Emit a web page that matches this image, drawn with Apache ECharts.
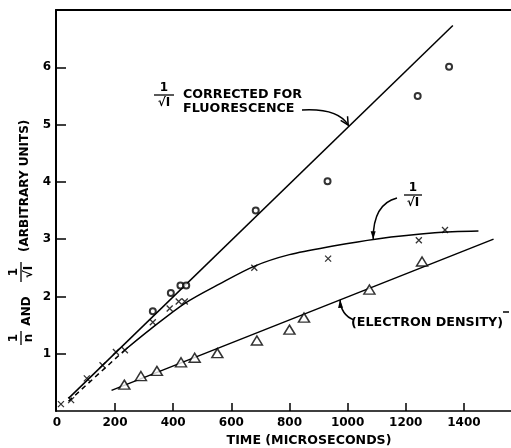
<!DOCTYPE html>
<html>
<head>
<meta charset="utf-8">
<script src="https://cdn.jsdelivr.net/npm/echarts@6/dist/echarts.min.js"></script>
<style>
html, body { margin: 0; padding: 0; background: #fff; }
#chart { width: 511px; height: 448px; }
</style>
</head>
<body>
<div id="chart"></div>
<script>
var xTickValues = [0, 200, 400, 600, 800, 1000, 1200, 1400];
var xTickMarks = [200, 400, 600, 800, 1000, 1200, 1400];
var yTickValues = [1, 2, 3, 4, 5, 6];

// 1/sqrt(I) corrected for fluorescence (circles) and its straight line
var correctedPts = [[330, 1.74], [392, 2.06], [425, 2.19], [445, 2.19], [684, 3.5], [931, 4.01], [1241, 5.5], [1349, 6.01]];
var correctedFit = [[40, 0.22], [1362, 6.73]];

// 1/sqrt(I) (crosses), dashed start then the curve
var invSqrtPts = [[14, 0.12], [49, 0.19], [103, 0.57], [157, 0.8], [203, 1.03], [234, 1.06], [330, 1.55], [388, 1.79], [419, 1.91], [440, 1.91], [679, 2.5], [933, 2.66], [1245, 2.98], [1335, 3.16]];
var invSqrtDashed = [[40, 0.17], [235, 1.07]];
var invSqrtCurve = [[235, 1.07], [320, 1.42], [440, 1.88], [560, 2.22], [680, 2.53], [800, 2.73], [950, 2.88], [1095, 3.0], [1300, 3.11], [1450, 3.14]];

// 1/n electron density (triangles) and its line
var densityPts = [[232, 0.46], [289, 0.61], [344, 0.70], [427, 0.85], [474, 0.93], [552, 1.01], [688, 1.23], [800, 1.42], [850, 1.63], [1075, 2.12], [1256, 2.61]];
var densityFit = [[188, 0.36], [1502, 3.0]];

// where the label arrows touch the lines
var arrowTips = { corrected: [1002, 4.99], invSqrt: [1088, 3.0], density: [974, 1.94] };

var FONT = '"DejaVu Sans", sans-serif';
var chart = echarts.init(document.getElementById('chart'));

function lineSeries(data, dashed, smooth) {
    return {
        type: 'line',
        data: data,
        showSymbol: false,
        smooth: smooth || false,
        silent: true,
        lineStyle: { color: '#000', width: 1.5, type: dashed ? [5, 4] : 'solid' },
        z: 2
    };
}

function plain(v) { return String(v); }

var option = {
    animation: false,
    backgroundColor: '#fff',
    grid: { left: 56, right: 0, top: 10, bottom: 37, outerBoundsMode: 'none' },
    xAxis: [{
        type: 'value',
        min: -3,
        max: 1562,
        axisLine: { onZero: false, lineStyle: { color: '#000', width: 1.5 } },
        axisTick: { inside: true, length: 8, customValues: xTickMarks, lineStyle: { color: '#000', width: 1.5 } },
        axisLabel: { customValues: xTickValues, formatter: plain, color: '#000', fontFamily: FONT, fontWeight: 'bold', fontSize: 12, margin: 6 },
        splitLine: { show: false }
    }, {
        type: 'value',
        position: 'top',
        min: -3,
        max: 1562,
        axisLine: { onZero: false, lineStyle: { color: '#000', width: 2 } },
        axisTick: { show: false },
        axisLabel: { show: false },
        splitLine: { show: false }
    }],
    yAxis: {
        type: 'value',
        min: 0,
        max: 7,
        axisLine: { show: true, onZero: false, lineStyle: { color: '#000', width: 2 } },
        axisTick: { show: true, inside: true, length: 10, customValues: yTickValues, lineStyle: { color: '#000', width: 1.5 } },
        axisLabel: { customValues: yTickValues, formatter: plain, color: '#000', fontFamily: FONT, fontWeight: 'bold', fontSize: 12, margin: 5 },
        splitLine: { show: false }
    },
    series: [
        lineSeries(correctedFit),
        lineSeries(invSqrtDashed, true),
        lineSeries(invSqrtCurve, false, 0.3),
        lineSeries(densityFit),
        {
            type: 'scatter', data: correctedPts, symbol: 'emptyCircle', symbolSize: 6,
            itemStyle: { color: '#000', borderColor: '#000', borderWidth: 1.5 }, z: 3
        },
        {
            type: 'scatter', data: invSqrtPts, symbol: 'path://M0,0L10,10M10,0L0,10', symbolSize: 6,
            itemStyle: { color: 'none', borderColor: '#000', borderWidth: 1.3 }, z: 3
        },
        {
            type: 'scatter', data: densityPts, symbol: 'triangle', symbolSize: [11, 9],
            itemStyle: { color: '#fff', borderColor: '#000', borderWidth: 1.5 }, z: 3
        }
    ]
};
chart.setOption(option);

function txt(text, x, y, size, align) {
    return {
        type: 'text',
        style: {
            text: text, x: x, y: y, fill: '#000',
            font: 'bold ' + (size || 12) + 'px ' + FONT,
            textAlign: align || 'left', textVerticalAlign: 'middle',
            align: align || 'left', verticalAlign: 'middle'
        }
    };
}
function seg(x1, y1, x2, y2, w) {
    return { type: 'line', shape: { x1: x1, y1: y1, x2: x2, y2: y2 }, style: { stroke: '#000', lineWidth: w || 1.3 } };
}
// fraction centred at (x, y): numerator above, denominator below
function frac(top, bottom, x, y, half, size) {
    return [txt(top, x, y - 7, size, 'center'), seg(x - half, y, x + half, y, 1.3), txt(bottom, x, y + 8, size, 'center')];
}
function arrow(from, cp, tip, filled) {
    var dx = tip[0] - cp[0], dy = tip[1] - cp[1];
    var len = Math.sqrt(dx * dx + dy * dy);
    dx /= len; dy /= len;
    var L = 8, W = filled ? 2.5 : 4;
    var bx = tip[0] - dx * L, by = tip[1] - dy * L;
    var p1 = [bx - dy * W, by + dx * W], p2 = [bx + dy * W, by - dx * W];
    var out = [{
        type: 'bezierCurve',
        shape: { x1: from[0], y1: from[1], cpx1: cp[0], cpy1: cp[1], x2: tip[0], y2: tip[1] },
        style: { stroke: '#000', lineWidth: 1.5, fill: null }
    }];
    if (filled) {
        out.push({ type: 'polygon', shape: { points: [tip, p1, p2] }, style: { fill: '#000' } });
    } else {
        out.push({ type: 'polyline', shape: { points: [p1, tip, p2] }, style: { stroke: '#000', lineWidth: 1.5, fill: null } });
    }
    return out;
}

var tipC = chart.convertToPixel({ gridIndex: 0 }, arrowTips.corrected);
var tipI = chart.convertToPixel({ gridIndex: 0 }, arrowTips.invSqrt);
var tipD = chart.convertToPixel({ gridIndex: 0 }, arrowTips.density);

var els = [];
// corrected for fluorescence label
els = els.concat(frac('1', '\u221aI', 164, 95, 10, 12));
els.push(txt('CORRECTED FOR', 183, 95, 12.7));
els.push(txt('FLUORESCENCE', 183, 109, 12.7));
els = els.concat(arrow([302, 110], [338, 108], tipC, false));
// 1/sqrt(I) label
els = els.concat(frac('1', '\u221aI', 413, 195, 9, 12));
els = els.concat(arrow([397, 198], [373, 204], tipI, true));
// electron density label
els.push(txt('(ELECTRON DENSITY)', 351, 323, 12.7));
els.push(seg(503, 312, 509, 312, 1.5));
els = els.concat(arrow([354, 320], [341, 315], tipD, true));
// x axis title
els.push(txt('TIME (MICROSECONDS)', 309, 441, 12.6, 'center'));
// y axis title, rotated to read bottom to top
var yTitle = [];
yTitle = yTitle.concat(frac('1', 'n', 12, -3, 7, 12));
yTitle.push(txt('AND', 39, 3, 12, 'center'));
yTitle = yTitle.concat(frac('1', '\u221aI', 78, -3, 10, 12));
yTitle.push(txt('(ARBITRARY UNITS)', 98, 1, 12, 'left'));
els.push({ type: 'group', x: 24, y: 350, rotation: Math.PI / 2, children: yTitle });

chart.setOption({ graphic: { elements: els } });
</script>
</body>
</html>
